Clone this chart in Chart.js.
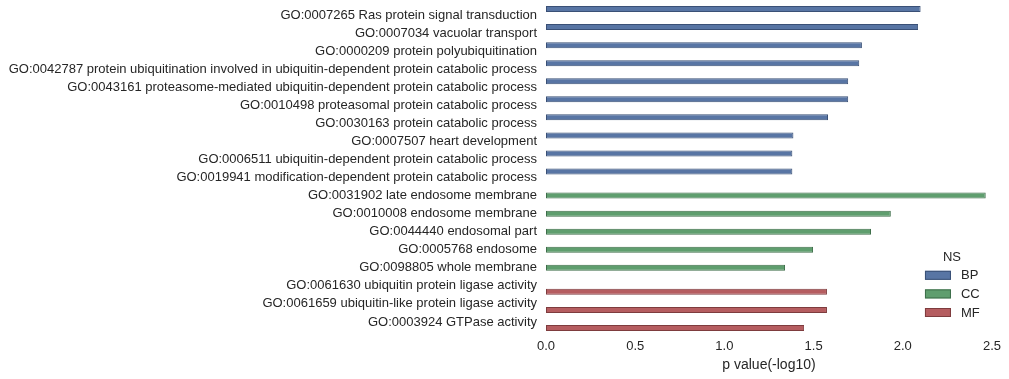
<!DOCTYPE html>
<html>
<head>
<meta charset="utf-8">
<script src="https://cdn.jsdelivr.net/npm/chart.js@4/dist/chart.umd.min.js"></script>
<style>
  html, body { margin: 0; padding: 0; background: #ffffff; }
  #wrap { width: 1009px; height: 379px; position: relative; }
</style>
</head>
<body>
<div id="wrap"><canvas id="c"></canvas></div>
<script>
const categories = [
  "GO:0007265 Ras protein signal transduction",
  "GO:0007034 vacuolar transport",
  "GO:0000209 protein polyubiquitination",
  "GO:0042787 protein ubiquitination involved in ubiquitin-dependent protein catabolic process",
  "GO:0043161 proteasome-mediated ubiquitin-dependent protein catabolic process",
  "GO:0010498 proteasomal protein catabolic process",
  "GO:0030163 protein catabolic process",
  "GO:0007507 heart development",
  "GO:0006511 ubiquitin-dependent protein catabolic process",
  "GO:0019941 modification-dependent protein catabolic process",
  "GO:0031902 late endosome membrane",
  "GO:0010008 endosome membrane",
  "GO:0044440 endosomal part",
  "GO:0005768 endosome",
  "GO:0098805 whole membrane",
  "GO:0061630 ubiquitin protein ligase activity",
  "GO:0061659 ubiquitin-like protein ligase activity",
  "GO:0003924 GTPase activity"
];
const bpValues = [2.10, 2.086, 1.771, 1.756, 1.694, 1.694, 1.581, 1.387, 1.381, 1.381,
                  null, null, null, null, null, null, null, null];
const ccValues = [null, null, null, null, null, null, null, null, null, null,
                  2.465, 1.933, 1.822, 1.497, 1.340, null, null, null];
const mfValues = [null, null, null, null, null, null, null, null, null, null,
                  null, null, null, null, null, 1.575, 1.575, 1.447];
const seriesNames = ["BP", "CC", "MF"];
const xTicks = [0, 0.5, 1.0, 1.5, 2.0, 2.5];
const legendTitle = "NS";
const xTitle = "p value(-log10)";

const fills = ["#5875a4", "#5f9e6e", "#b55d60"];
const edges = ["#3a5076", "#3e6e4a", "#7e3c3e"];
const TEXT = "#262626";
const FONT = "'Liberation Sans', Arial, sans-serif";

const legendPlugin = {
  id: "nsLegend",
  afterDraw(chart) {
    const ctx = chart.ctx;
    const ca = chart.chartArea;
    const x0 = ca.right - 67;
    ctx.save();
    ctx.font = "13px " + FONT;
    ctx.fillStyle = TEXT;
    ctx.textAlign = "center";
    ctx.textBaseline = "middle";
    ctx.fillText(legendTitle, x0 + 27, 257.5);
    chart.data.datasets.forEach((ds, i) => {
      const cy = 275.3 + i * 18.6;
      ctx.fillStyle = ds.backgroundColor;
      ctx.fillRect(x0, cy - 4.5, 26, 9);
      ctx.strokeStyle = ds.borderColor;
      ctx.lineWidth = 1;
      ctx.strokeRect(x0 + 0.5, cy - 4.5 + 0.5, 25, 8);
      ctx.fillStyle = TEXT;
      ctx.textAlign = "left";
      ctx.fillText(ds.label, x0 + 36, cy + 0.5);
    });
    ctx.restore();
  }
};

new Chart(document.getElementById("c"), {
  type: "bar",
  data: {
    labels: categories,
    datasets: [bpValues, ccValues, mfValues].map((vals, i) => ({
      label: seriesNames[i],
      data: vals,
      backgroundColor: fills[i],
      borderColor: edges[i],
      borderWidth: 1,
      borderSkipped: false,
      inflateAmount: 0,
      categoryPercentage: 0.8,
      barPercentage: 1.0,
      barThickness: 6
    }))
  },
  options: {
    indexAxis: "y",
    responsive: true,
    maintainAspectRatio: false,
    animation: false,
    devicePixelRatio: 1,
    layout: { padding: { left: 0, right: 16, top: 6, bottom: 0 } },
    plugins: {
      legend: { display: false },
      tooltip: { enabled: false }
    },
    scales: {
      x: {
        type: "linear",
        min: 0,
        max: 2.5,
        grid: { display: false, drawTicks: false },
        border: { display: false },
        afterBuildTicks(scale) { scale.ticks = xTicks.map(v => ({ value: v })); },
        ticks: {
          padding: 8,
          color: TEXT,
          font: { family: FONT, size: 13 },
          callback: v => Number(v).toFixed(1)
        },
        title: {
          display: true,
          text: xTitle,
          color: TEXT,
          font: { family: FONT, size: 14 },
          padding: { top: 2, bottom: 5 }
        },
        afterFit(scale) { scale.height = 48; }
      },
      y: {
        grid: { display: false, drawTicks: false },
        border: { display: false },
        ticks: {
          padding: 9,
          color: TEXT,
          autoSkip: false,
          font: { family: FONT, size: 13 }
        },
        afterFit(scale) {
          scale.width = 546;
          scale.paddingTop = 0;
          scale.paddingBottom = 0;
        }
      }
    }
  },
  plugins: [legendPlugin]
});
</script>
</body>
</html>
